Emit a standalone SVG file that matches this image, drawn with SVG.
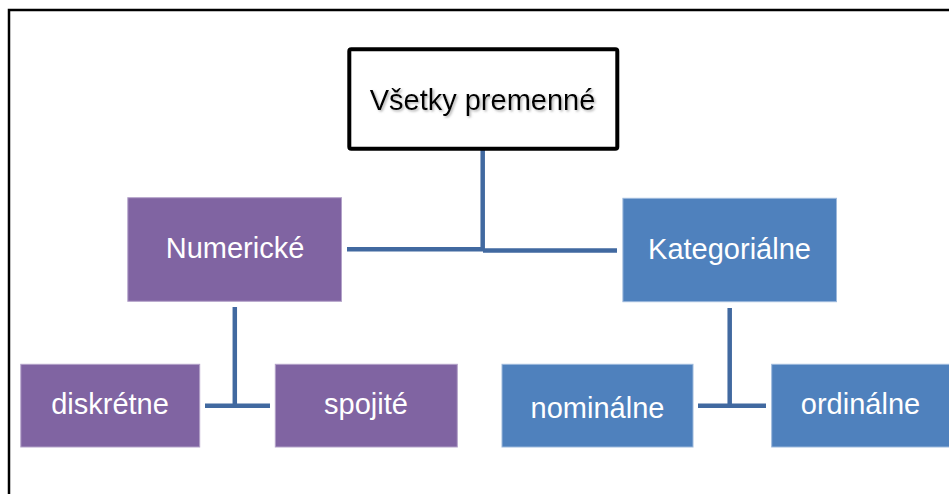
<svg xmlns="http://www.w3.org/2000/svg" width="949" height="494" viewBox="0 0 949 494">
<defs>
<filter id="tshadow" x="-10%" y="-30%" width="120%" height="160%">
<feDropShadow dx="1.5" dy="1.5" stdDeviation="0.8" flood-color="#808080" flood-opacity="0.6"/>
</filter>
</defs>
<style>
.frame{fill:none;stroke:#000;stroke-width:2.5}
.top{fill:#fff;stroke:#000;stroke-width:4}
.pur{fill:#8064A2;stroke:#B3A2C9;stroke-width:1}
.blu{fill:#4F81BD;stroke:#9DB9DC;stroke-width:1}
.lbl{font-family:"Liberation Sans",Arial,sans-serif;font-size:29px;fill:#fff;text-anchor:middle}
.tlbl{font-family:"Liberation Sans",Arial,sans-serif;font-size:29px;fill:#000;text-anchor:middle;filter:url(#tshadow)}
.con{stroke:#4169A0;stroke-width:4.5;fill:none}
</style>
<rect x="0" y="0" width="949" height="494" fill="#fff"/>
<rect class="frame" x="9" y="10" width="960" height="500"/>
<g id="connectors">
<line class="con" x1="482.7" y1="150" x2="482.7" y2="251"/>
<line class="con" x1="347" y1="249.3" x2="483" y2="249.3"/>
<line class="con" x1="483" y1="250.5" x2="617" y2="250.5"/>
<line class="con" x1="234.8" y1="307" x2="234.8" y2="408"/>
<line class="con" x1="205" y1="405.8" x2="270" y2="405.8"/>
<line class="con" x1="729.7" y1="308" x2="729.7" y2="408"/>
<line class="con" x1="698" y1="405.8" x2="766" y2="405.8"/>
</g>
<g id="node-vsetky">
<rect class="top" x="349.3" y="49.3" width="268" height="99.4" rx="2"/>
<text class="tlbl" x="482.5" y="109.5">Všetky premenné</text>
</g>
<g id="node-numericke">
<rect class="pur" x="127.8" y="197.7" width="213.7" height="103.6"/>
<text class="lbl" x="235" y="258">Numerické</text>
</g>
<g id="node-kategorialne">
<rect class="blu" x="622.9" y="198.3" width="213.6" height="103.4"/>
<text class="lbl" x="729.5" y="258.5">Kategoriálne</text>
</g>
<g id="node-diskretne">
<rect class="pur" x="20.8" y="364.3" width="178.9" height="82.7"/>
<text class="lbl" x="110" y="413.5">diskrétne</text>
</g>
<g id="node-spojite">
<rect class="pur" x="275.3" y="364.3" width="182" height="82.7"/>
<text class="lbl" x="366" y="414">spojité</text>
</g>
<g id="node-nominalne">
<rect class="blu" x="502" y="364.3" width="191" height="82.7"/>
<text class="lbl" x="597.5" y="418">nominálne</text>
</g>
<g id="node-ordinalne">
<rect class="blu" x="771.7" y="364.3" width="191" height="82.7"/>
<text class="lbl" x="860.5" y="414">ordinálne</text>
</g>
</svg>
